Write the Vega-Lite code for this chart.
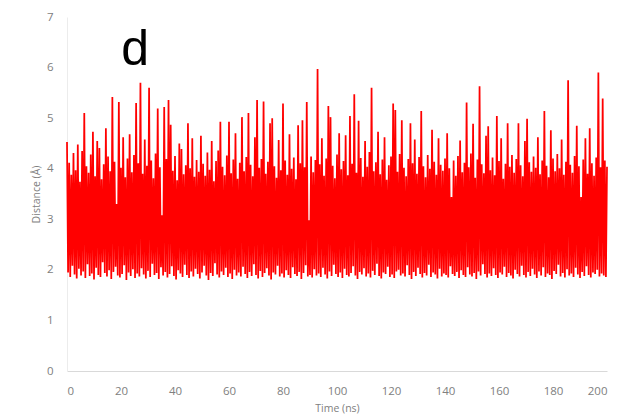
{
  "$schema": "https://vega.github.io/schema/vega-lite/v6.json",
  "width": 540,
  "height": 354,
  "autosize": "none",
  "padding": {"left": 67, "top": 17, "right": 32, "bottom": 48},
  "background": "white",
  "config": {
    "view": {"stroke": null},
    "axis": {
      "grid": false,
      "ticks": false,
      "labelFont": "Open Sans",
      "labelFontSize": 11.5,
      "labelColor": "#808080",
      "titleFont": "Open Sans",
      "titleFontSize": 10.5,
      "titleFontWeight": "normal",
      "titleColor": "#808080"
    }
  },
  "layer": [
    {
      "data": {"values": [
        {"time":0,"dist":4.53},{"time":0.4,"dist":1.95},{"time":0.8,"dist":4.12},{"time":1.2,"dist":1.86},{"time":1.6,"dist":3.88},{"time":2,"dist":2.08},{"time":2.4,"dist":4.31},{"time":2.8,"dist":1.91},{"time":3.2,"dist":3.97},{"time":3.6,"dist":1.83},
        {"time":4,"dist":4.48},{"time":4.4,"dist":2.02},{"time":4.8,"dist":3.74},{"time":5.2,"dist":1.89},{"time":5.6,"dist":4.35},{"time":6,"dist":1.97},{"time":6.4,"dist":5.1},{"time":6.8,"dist":1.84},{"time":7.2,"dist":4.05},{"time":7.6,"dist":2.11},
        {"time":8,"dist":3.92},{"time":8.4,"dist":1.88},{"time":8.8,"dist":4.28},{"time":9.2,"dist":1.93},{"time":9.6,"dist":4.73},{"time":10,"dist":1.81},{"time":10.4,"dist":3.85},{"time":10.8,"dist":2.04},{"time":11.2,"dist":4.55},{"time":11.6,"dist":1.9},
        {"time":12,"dist":4.41},{"time":12.4,"dist":1.86},{"time":12.8,"dist":3.79},{"time":13.2,"dist":2.15},{"time":13.6,"dist":4.09},{"time":14,"dist":1.94},{"time":14.4,"dist":4.8},{"time":14.8,"dist":1.87},{"time":15.2,"dist":4.24},{"time":15.6,"dist":1.99},
        {"time":16,"dist":3.95},{"time":16.4,"dist":1.82},{"time":16.8,"dist":5.42},{"time":17.2,"dist":1.96},{"time":17.6,"dist":4.14},{"time":18,"dist":2.06},{"time":18.4,"dist":3.3},{"time":18.8,"dist":1.89},{"time":19.2,"dist":5.32},{"time":19.6,"dist":1.85},
        {"time":20,"dist":4.02},{"time":20.4,"dist":1.92},{"time":20.8,"dist":4.62},{"time":21.2,"dist":2.09},{"time":21.6,"dist":3.83},{"time":22,"dist":1.8},{"time":22.4,"dist":4.2},{"time":22.8,"dist":1.95},{"time":23.2,"dist":4.68},{"time":23.6,"dist":1.88},
        {"time":24,"dist":3.93},{"time":24.4,"dist":2.01},{"time":24.8,"dist":4.27},{"time":25.2,"dist":1.84},{"time":25.6,"dist":5.3},{"time":26,"dist":1.93},{"time":26.4,"dist":4.11},{"time":26.8,"dist":1.87},{"time":27.2,"dist":5.7},{"time":27.6,"dist":2.03},
        {"time":28,"dist":3.9},{"time":28.4,"dist":1.91},{"time":28.8,"dist":4.58},{"time":29.2,"dist":1.83},{"time":29.6,"dist":4.06},{"time":30,"dist":1.98},{"time":30.4,"dist":5.6},{"time":30.8,"dist":1.86},{"time":31.2,"dist":4.16},{"time":31.6,"dist":2.12},
        {"time":32,"dist":3.81},{"time":32.4,"dist":1.9},{"time":32.8,"dist":4.3},{"time":33.2,"dist":1.94},{"time":33.6,"dist":5.19},{"time":34,"dist":1.82},{"time":34.4,"dist":4.03},{"time":34.8,"dist":2.05},{"time":35.2,"dist":3.08},{"time":35.6,"dist":1.89},
        {"time":36,"dist":5.22},{"time":36.4,"dist":1.96},{"time":36.8,"dist":4.19},{"time":37.2,"dist":1.85},{"time":37.6,"dist":5.36},{"time":38,"dist":1.92},{"time":38.4,"dist":4.87},{"time":38.8,"dist":2.07},{"time":39.2,"dist":3.96},{"time":39.6,"dist":1.88},
        {"time":40,"dist":4.25},{"time":40.4,"dist":1.81},{"time":40.8,"dist":3.77},{"time":41.2,"dist":1.99},{"time":41.6,"dist":4.5},{"time":42,"dist":1.93},{"time":42.4,"dist":4.39},{"time":42.8,"dist":1.86},{"time":43.2,"dist":3.89},{"time":43.6,"dist":2.1},
        {"time":44,"dist":4.07},{"time":44.4,"dist":1.9},{"time":44.8,"dist":4.9},{"time":45.2,"dist":1.84},{"time":45.6,"dist":4.01},{"time":46,"dist":1.97},{"time":46.4,"dist":4.6},{"time":46.8,"dist":1.87},{"time":47.2,"dist":3.84},{"time":47.6,"dist":2.02},
        {"time":48,"dist":4.17},{"time":48.4,"dist":1.92},{"time":48.8,"dist":3.94},{"time":49.2,"dist":1.83},{"time":49.6,"dist":4.65},{"time":50,"dist":1.95},{"time":50.4,"dist":4.1},{"time":50.8,"dist":2.08},{"time":51.2,"dist":3.86},{"time":51.6,"dist":1.89},
        {"time":52,"dist":4.32},{"time":52.4,"dist":1.8},{"time":52.8,"dist":3.98},{"time":53.2,"dist":1.94},{"time":53.6,"dist":4.55},{"time":54,"dist":1.88},{"time":54.4,"dist":3.75},{"time":54.8,"dist":2.13},{"time":55.2,"dist":4.15},{"time":55.6,"dist":1.91},
        {"time":56,"dist":4.36},{"time":56.4,"dist":1.85},{"time":56.8,"dist":4.93},{"time":57.2,"dist":1.97},{"time":57.6,"dist":4.04},{"time":58,"dist":1.9},{"time":58.4,"dist":3.87},{"time":58.8,"dist":2.04},{"time":59.2,"dist":4.26},{"time":59.6,"dist":1.86},
        {"time":60,"dist":4.93},{"time":60.4,"dist":1.93},{"time":60.8,"dist":3.91},{"time":61.2,"dist":1.82},{"time":61.6,"dist":4.18},{"time":62,"dist":2.0},{"time":62.4,"dist":4.7},{"time":62.8,"dist":1.89},{"time":63.2,"dist":3.8},{"time":63.6,"dist":1.95},
        {"time":64,"dist":4.12},{"time":64.4,"dist":1.87},{"time":64.8,"dist":5.02},{"time":65.2,"dist":2.06},{"time":65.6,"dist":3.95},{"time":66,"dist":1.92},{"time":66.4,"dist":4.23},{"time":66.8,"dist":1.84},{"time":67.2,"dist":5.1},{"time":67.6,"dist":1.96},
        {"time":68,"dist":4.08},{"time":68.4,"dist":1.88},{"time":68.8,"dist":3.85},{"time":69.2,"dist":2.11},{"time":69.6,"dist":4.62},{"time":70,"dist":1.9},{"time":70.4,"dist":5.36},{"time":70.8,"dist":1.83},{"time":71.2,"dist":4.02},{"time":71.6,"dist":1.98},
        {"time":72,"dist":4.19},{"time":72.4,"dist":1.86},{"time":72.8,"dist":5.33},{"time":73.2,"dist":1.94},{"time":73.6,"dist":3.9},{"time":74,"dist":2.03},{"time":74.4,"dist":4.14},{"time":74.8,"dist":1.89},{"time":75.2,"dist":4.9},{"time":75.6,"dist":1.81},
        {"time":76,"dist":5.0},{"time":76.4,"dist":1.95},{"time":76.8,"dist":4.05},{"time":77.2,"dist":1.91},{"time":77.6,"dist":3.82},{"time":78,"dist":2.08},{"time":78.4,"dist":4.57},{"time":78.8,"dist":1.87},{"time":79.2,"dist":3.97},{"time":79.6,"dist":1.93},
        {"time":80,"dist":5.29},{"time":80.4,"dist":1.85},{"time":80.8,"dist":4.16},{"time":81.2,"dist":1.99},{"time":81.6,"dist":3.88},{"time":82,"dist":1.9},{"time":82.4,"dist":4.68},{"time":82.8,"dist":1.84},{"time":83.2,"dist":4.0},{"time":83.6,"dist":2.05},
        {"time":84,"dist":4.22},{"time":84.4,"dist":1.92},{"time":84.8,"dist":3.79},{"time":85.2,"dist":1.88},{"time":85.6,"dist":4.86},{"time":86,"dist":1.96},{"time":86.4,"dist":4.11},{"time":86.8,"dist":1.82},{"time":87.2,"dist":4.96},{"time":87.6,"dist":1.94},
        {"time":88,"dist":4.03},{"time":88.4,"dist":2.09},{"time":88.8,"dist":5.32},{"time":89.2,"dist":1.87},{"time":89.6,"dist":2.98},{"time":90,"dist":1.9},{"time":90.4,"dist":4.24},{"time":90.8,"dist":1.85},{"time":91.2,"dist":3.93},{"time":91.6,"dist":2.01},
        {"time":92,"dist":4.17},{"time":92.4,"dist":1.89},{"time":92.8,"dist":5.97},{"time":93.2,"dist":1.93},{"time":93.6,"dist":4.09},{"time":94,"dist":1.86},{"time":94.4,"dist":4.6},{"time":94.8,"dist":2.04},{"time":95.2,"dist":3.86},{"time":95.6,"dist":1.91},
        {"time":96,"dist":4.2},{"time":96.4,"dist":1.83},{"time":96.8,"dist":5.24},{"time":97.2,"dist":1.97},{"time":97.6,"dist":5.02},{"time":98,"dist":1.88},{"time":98.4,"dist":4.06},{"time":98.8,"dist":2.1},{"time":99.2,"dist":3.81},{"time":99.6,"dist":1.92},
        {"time":100,"dist":4.28},{"time":100.4,"dist":1.86},{"time":100.8,"dist":4.7},{"time":101.2,"dist":1.95},{"time":101.6,"dist":3.99},{"time":102,"dist":1.84},{"time":102.4,"dist":4.15},{"time":102.8,"dist":2.02},{"time":103.2,"dist":4.66},{"time":103.6,"dist":1.9},
        {"time":104,"dist":3.87},{"time":104.4,"dist":1.87},{"time":104.8,"dist":5.04},{"time":105.2,"dist":1.94},{"time":105.6,"dist":4.1},{"time":106,"dist":2.07},{"time":106.4,"dist":5.47},{"time":106.8,"dist":1.89},{"time":107.2,"dist":3.92},{"time":107.6,"dist":1.82},
        {"time":108,"dist":4.95},{"time":108.4,"dist":1.96},{"time":108.8,"dist":4.21},{"time":109.2,"dist":1.91},{"time":109.6,"dist":3.84},{"time":110,"dist":2.03},{"time":110.4,"dist":4.55},{"time":110.8,"dist":1.87},{"time":111.2,"dist":4.04},{"time":111.6,"dist":1.93},
        {"time":112,"dist":4.33},{"time":112.4,"dist":1.85},{"time":112.8,"dist":5.6},{"time":113.2,"dist":1.98},{"time":113.6,"dist":3.95},{"time":114,"dist":1.9},{"time":114.4,"dist":4.13},{"time":114.8,"dist":2.12},{"time":115.2,"dist":4.73},{"time":115.6,"dist":1.88},
        {"time":116,"dist":3.89},{"time":116.4,"dist":1.83},{"time":116.8,"dist":4.18},{"time":117.2,"dist":1.95},{"time":117.6,"dist":4.62},{"time":118,"dist":1.92},{"time":118.4,"dist":3.78},{"time":118.8,"dist":2.06},{"time":119.2,"dist":4.07},{"time":119.6,"dist":1.86},
        {"time":120,"dist":4.24},{"time":120.4,"dist":1.91},{"time":120.8,"dist":5.29},{"time":121.2,"dist":1.84},{"time":121.6,"dist":5.16},{"time":122,"dist":1.97},{"time":122.4,"dist":3.94},{"time":122.8,"dist":2.0},{"time":123.2,"dist":4.29},{"time":123.6,"dist":1.89},
        {"time":124,"dist":4.96},{"time":124.4,"dist":1.93},{"time":124.8,"dist":4.02},{"time":125.2,"dist":1.87},{"time":125.6,"dist":3.85},{"time":126,"dist":2.09},{"time":126.4,"dist":4.19},{"time":126.8,"dist":1.9},{"time":127.2,"dist":4.9},{"time":127.6,"dist":1.82},
        {"time":128,"dist":4.11},{"time":128.4,"dist":1.96},{"time":128.8,"dist":4.58},{"time":129.2,"dist":1.88},{"time":129.6,"dist":3.9},{"time":130,"dist":2.04},{"time":130.4,"dist":4.23},{"time":130.8,"dist":1.92},{"time":131.2,"dist":5.14},{"time":131.6,"dist":1.85},
        {"time":132,"dist":4.05},{"time":132.4,"dist":1.94},{"time":132.8,"dist":3.83},{"time":133.2,"dist":1.89},{"time":133.6,"dist":4.27},{"time":134,"dist":2.1},{"time":134.4,"dist":4.0},{"time":134.8,"dist":1.86},{"time":135.2,"dist":4.77},{"time":135.6,"dist":1.95},
        {"time":136,"dist":4.14},{"time":136.4,"dist":1.91},{"time":136.8,"dist":3.88},{"time":137.2,"dist":1.83},{"time":137.6,"dist":4.6},{"time":138,"dist":2.02},{"time":138.4,"dist":4.08},{"time":138.8,"dist":1.87},{"time":139.2,"dist":3.96},{"time":139.6,"dist":1.93},
        {"time":140,"dist":4.2},{"time":140.4,"dist":1.9},{"time":140.8,"dist":4.7},{"time":141.2,"dist":1.85},{"time":141.6,"dist":4.01},{"time":142,"dist":2.07},{"time":142.4,"dist":3.44},{"time":142.8,"dist":1.92},{"time":143.2,"dist":4.16},{"time":143.6,"dist":1.88},
        {"time":144,"dist":3.86},{"time":144.4,"dist":1.96},{"time":144.8,"dist":4.25},{"time":145.2,"dist":1.84},{"time":145.6,"dist":4.56},{"time":146,"dist":1.99},{"time":146.4,"dist":3.93},{"time":146.8,"dist":1.9},{"time":147.2,"dist":4.12},{"time":147.6,"dist":1.86},
        {"time":148,"dist":5.31},{"time":148.4,"dist":2.05},{"time":148.8,"dist":4.03},{"time":149.2,"dist":1.91},{"time":149.6,"dist":4.3},{"time":150,"dist":1.87},{"time":150.4,"dist":4.89},{"time":150.8,"dist":1.94},{"time":151.2,"dist":3.82},{"time":151.6,"dist":1.82},
        {"time":152,"dist":4.18},{"time":152.4,"dist":1.97},{"time":152.8,"dist":5.63},{"time":153.2,"dist":1.89},{"time":153.6,"dist":4.09},{"time":154,"dist":2.11},{"time":154.4,"dist":3.91},{"time":154.8,"dist":1.92},{"time":155.2,"dist":4.65},{"time":155.6,"dist":1.85},
        {"time":156,"dist":4.84},{"time":156.4,"dist":1.93},{"time":156.8,"dist":3.97},{"time":157.2,"dist":1.88},{"time":157.6,"dist":4.22},{"time":158,"dist":2.03},{"time":158.4,"dist":3.87},{"time":158.8,"dist":1.9},{"time":159.2,"dist":5.04},{"time":159.6,"dist":1.84},
        {"time":160,"dist":4.15},{"time":160.4,"dist":1.95},{"time":160.8,"dist":4.6},{"time":161.2,"dist":1.91},{"time":161.6,"dist":3.8},{"time":162,"dist":2.06},{"time":162.4,"dist":4.1},{"time":162.8,"dist":1.86},{"time":163.2,"dist":4.9},{"time":163.6,"dist":1.94},
        {"time":164,"dist":4.04},{"time":164.4,"dist":1.89},{"time":164.8,"dist":4.27},{"time":165.2,"dist":1.83},{"time":165.6,"dist":3.92},{"time":166,"dist":2.0},{"time":166.4,"dist":4.19},{"time":166.8,"dist":1.92},{"time":167.2,"dist":4.9},{"time":167.6,"dist":1.87},
        {"time":168,"dist":4.07},{"time":168.4,"dist":2.08},{"time":168.8,"dist":3.85},{"time":169.2,"dist":1.9},{"time":169.6,"dist":4.55},{"time":170,"dist":1.85},{"time":170.4,"dist":4.99},{"time":170.8,"dist":1.96},{"time":171.2,"dist":4.13},{"time":171.6,"dist":1.88},
        {"time":172,"dist":3.94},{"time":172.4,"dist":2.02},{"time":172.8,"dist":4.24},{"time":173.2,"dist":1.91},{"time":173.6,"dist":4.02},{"time":174,"dist":1.84},{"time":174.4,"dist":4.62},{"time":174.8,"dist":1.97},{"time":175.2,"dist":3.89},{"time":175.6,"dist":1.89},
        {"time":176,"dist":4.16},{"time":176.4,"dist":2.05},{"time":176.8,"dist":5.14},{"time":177.2,"dist":1.86},{"time":177.6,"dist":4.06},{"time":178,"dist":1.93},{"time":178.4,"dist":3.83},{"time":178.8,"dist":1.9},{"time":179.2,"dist":4.76},{"time":179.6,"dist":1.82},
        {"time":180,"dist":4.2},{"time":180.4,"dist":1.98},{"time":180.8,"dist":3.95},{"time":181.2,"dist":1.92},{"time":181.6,"dist":4.29},{"time":182,"dist":2.1},{"time":182.4,"dist":4.01},{"time":182.8,"dist":1.87},{"time":183.2,"dist":4.58},{"time":183.6,"dist":1.94},
        {"time":184,"dist":3.88},{"time":184.4,"dist":1.85},{"time":184.8,"dist":4.14},{"time":185.2,"dist":2.01},{"time":185.6,"dist":5.75},{"time":186,"dist":1.89},{"time":186.4,"dist":4.08},{"time":186.8,"dist":1.93},{"time":187.2,"dist":3.92},{"time":187.6,"dist":1.86},
        {"time":188,"dist":4.25},{"time":188.4,"dist":2.04},{"time":188.8,"dist":4.85},{"time":189.2,"dist":1.91},{"time":189.6,"dist":4.05},{"time":190,"dist":1.84},{"time":190.4,"dist":3.44},{"time":190.8,"dist":1.96},{"time":191.2,"dist":4.18},{"time":191.6,"dist":1.88},
        {"time":192,"dist":4.6},{"time":192.4,"dist":2.07},{"time":192.8,"dist":3.9},{"time":193.2,"dist":1.9},{"time":193.6,"dist":4.8},{"time":194,"dist":1.85},{"time":194.4,"dist":4.11},{"time":194.8,"dist":1.95},{"time":195.2,"dist":3.86},{"time":195.6,"dist":1.92},
        {"time":196,"dist":4.22},{"time":196.4,"dist":2.0},{"time":196.8,"dist":5.9},{"time":197.2,"dist":1.87},{"time":197.6,"dist":4.03},{"time":198,"dist":1.93},{"time":198.4,"dist":5.39},{"time":198.8,"dist":1.89},{"time":199.2,"dist":4.16},{"time":199.6,"dist":1.86},
        {"time":200,"dist":4.04}
      ]},
      "mark": {"type": "line", "color": "#ff0000", "strokeWidth": 1.75, "strokeJoin": "bevel", "interpolate": "linear"},
      "encoding": {
        "x": {
          "field": "time", "type": "quantitative",
          "scale": {"domain": [0, 200], "nice": false, "zero": false},
          "axis": {"title": "Time (ns)", "values": [0, 20, 40, 60, 80, 100, 120, 140, 160, 180, 200], "domainColor": "#d9d9d9", "domainWidth": 1, "labelPadding": 14, "titlePadding": 7}
        },
        "y": {
          "field": "dist", "type": "quantitative",
          "scale": {"domain": [0, 7], "nice": false},
          "axis": {"title": "Distance (Å)", "values": [0, 1, 2, 3, 4, 5, 6, 7], "domainColor": "#ececec", "domainWidth": 1, "labelPadding": 14, "titlePadding": 5}
        }
      }
    },
    {
      "data": {"values": [{"time": 25.2, "dist": 6.06, "label": "d"}]},
      "mark": {"type": "text", "font": "Liberation Sans", "fontSize": 50, "color": "#000000", "align": "center", "baseline": "alphabetic"},
      "encoding": {
        "x": {"field": "time", "type": "quantitative"},
        "y": {"field": "dist", "type": "quantitative"},
        "text": {"field": "label"}
      }
    }
  ]
}
